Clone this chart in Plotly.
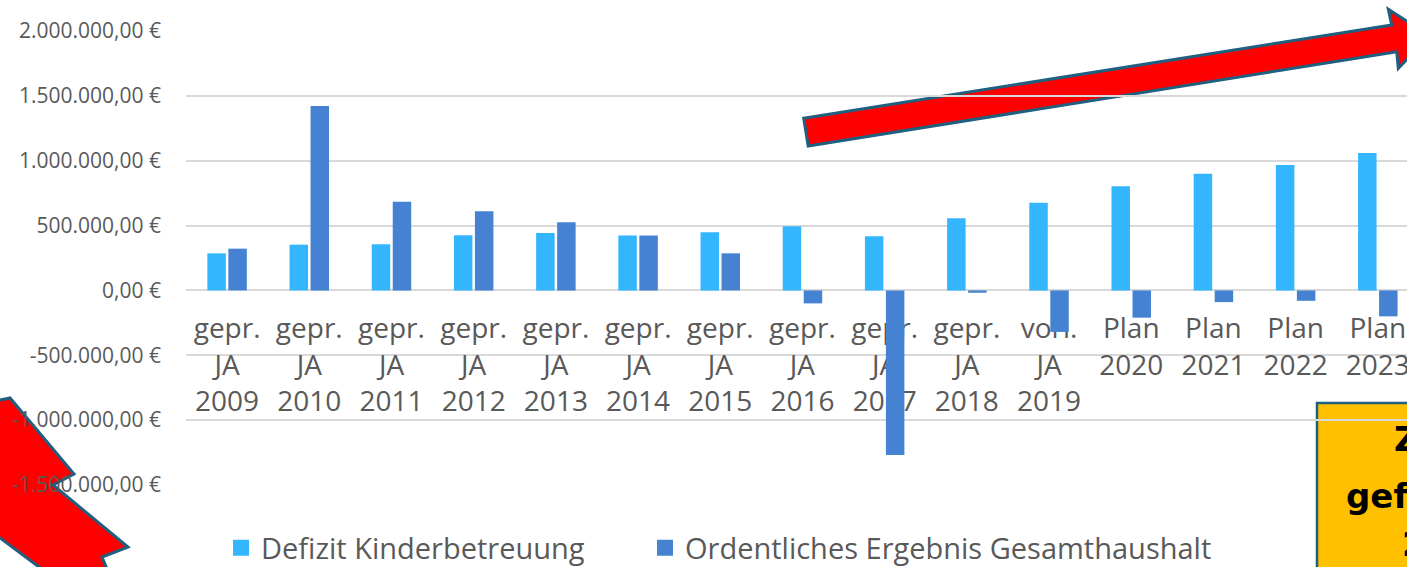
import plotly.graph_objects as go

# ---------------- data ----------------
categories = [
    "gepr.<br>JA<br>2009", "gepr.<br>JA<br>2010", "gepr.<br>JA<br>2011",
    "gepr.<br>JA<br>2012", "gepr.<br>JA<br>2013", "gepr.<br>JA<br>2014",
    "gepr.<br>JA<br>2015", "gepr.<br>JA<br>2016", "gepr.<br>JA<br>2017",
    "gepr.<br>JA<br>2018", "vorl.<br>JA<br>2019",
    "Plan<br>2020", "Plan<br>2021", "Plan<br>2022", "Plan<br>2023",
]
defizit_kinderbetreuung = [
    286000, 353000, 356000, 425000, 443000, 423000, 448000, 495000,
    417000, 557000, 675000, 804000, 899000, 966000, 1059000,
]
ordentliches_ergebnis = [
    322000, 1422000, 683000, 611000, 526000, 423000, 286000, -100000,
    -1269000, -18000, -320000, -210000, -90000, -80000, -200000,
]
series_names = ["Defizit Kinderbetreuung", "Ordentliches Ergebnis Gesamthaushalt"]
y_tickvals = [-1500000, -1000000, -500000, 0, 500000, 1000000, 1500000, 2000000]
y_ticktext = ["-1.500.000,00 €", "-1.000.000,00 €", "-500.000,00 €", "0,00 €",
              "500.000,00 €", "1.000.000,00 €", "1.500.000,00 €", "2.000.000,00 €"]
box_lines = ["Zuschuss", "gefährdet", "2023"]

# ---------------- styling ----------------
W, H = 1407, 567
L, R, T, B = 186, 1407, 31, 485
C_LIGHT = "#33B6FE"
C_DARK = "#4583D2"
TXT = "#595959"
GRID = "#D9D9D9"
OUTLINE = "#1F5F80"
YMIN, YMAX = -1500000, 2000000


def px(x):
    return (x - L) / (R - L)


def py(y):
    return (B - y) / (B - T)


def path(points):
    s = "M " + " L ".join(f"{px(a):.5f},{py(b):.5f}" for a, b in points) + " Z"
    return s


fig = go.Figure()
fig.add_trace(go.Bar(x=categories, y=defizit_kinderbetreuung, name=series_names[0],
                     marker=dict(color=C_LIGHT, line=dict(width=0)), showlegend=False))
fig.add_trace(go.Bar(x=categories, y=ordentliches_ergebnis, name=series_names[1],
                     marker=dict(color=C_DARK, line=dict(width=0)), showlegend=False))
# legend proxies (larger square symbols), one per legend box
for nm, col, lg in zip(series_names, [C_LIGHT, C_DARK], ["legend", "legend2"]):
    fig.add_trace(go.Scatter(x=[None], y=[None], mode="markers", name=nm, legend=lg,
                             showlegend=True,
                             marker=dict(symbol="square", size=17, color=col)))

zero_pos = (0 - YMIN) / (YMAX - YMIN)

# decorative shapes (behind the chart)
arrow1 = [(803.7, 118.3), (1391.7, 25.0), (1388.3, 9.3), (1430, 36),
          (1398.3, 68.3), (1396.7, 51.7), (808.2, 146.0)]
bolt = [(-20, 404), (10, 398), (74, 474), (53, 485), (128, 547), (102, 557),
        (116, 590), (70, 590), (0, 538), (-20, 528)]

shapes = [
    dict(type="path", xref="paper", yref="paper", path=path(arrow1),
         fillcolor="#FF0000", line=dict(color=OUTLINE, width=3), layer="below"),
    dict(type="path", xref="paper", yref="paper", path=path(bolt),
         fillcolor="#FF0000", line=dict(color=OUTLINE, width=3), layer="below"),
    dict(type="rect", xref="paper", yref="paper", x0=px(1317), x1=px(1520),
         y0=py(403), y1=py(640), fillcolor="#FFC000",
         line=dict(color=OUTLINE, width=2.5), layer="below"),
]

annotations = []
for txt, xs, yc in zip(box_lines, [1392, 1344, 1400], [439, 496, 544]):
    annotations.append(dict(text=f"<b>{txt}</b>", xref="paper", yref="paper",
                            x=px(xs), y=py(yc), xanchor="left", yanchor="middle",
                            showarrow=False,
                            font=dict(family="DejaVu Sans", size=34, color="#000000")))

legend_common = dict(orientation="h", xanchor="left", y=py(548), yanchor="middle",
                     font=dict(size=29, color=TXT), itemsizing="trace",
                     bgcolor="rgba(0,0,0,0)")

fig.update_layout(
    width=W, height=H,
    margin=dict(l=L, r=W - R, t=T, b=H - B, pad=0, autoexpand=False),
    paper_bgcolor="white", plot_bgcolor="rgba(0,0,0,0)",
    barmode="group", bargap=0.489, bargroupgap=0.12,
    font=dict(family="Open Sans", color=TXT),
    shapes=shapes, annotations=annotations,
    legend=dict(x=px(221), **legend_common),
    legend2=dict(x=px(645), **legend_common),
    xaxis=dict(type="category", range=[-0.5, 14.355], anchor="free", position=zero_pos,
               showgrid=False, showline=False, ticks="", zeroline=False,
               tickfont=dict(size=28, color=TXT), layer="below traces",
               ticklabelstandoff=19, automargin=False),
    yaxis=dict(range=[YMIN, YMAX], tickvals=y_tickvals, ticktext=y_ticktext,
               showgrid=True, gridcolor=GRID, gridwidth=1.6,
               zeroline=True, zerolinecolor=GRID, zerolinewidth=1.6,
               showline=False, ticks="", tickfont=dict(size=21, color=TXT),
               ticklabelstandoff=24, layer="below traces", automargin=False),
)

fig.write_html("out.html", config={"displayModeBar": False},
               post_script="document.body.style.margin='0';document.body.style.overflow='hidden';")
